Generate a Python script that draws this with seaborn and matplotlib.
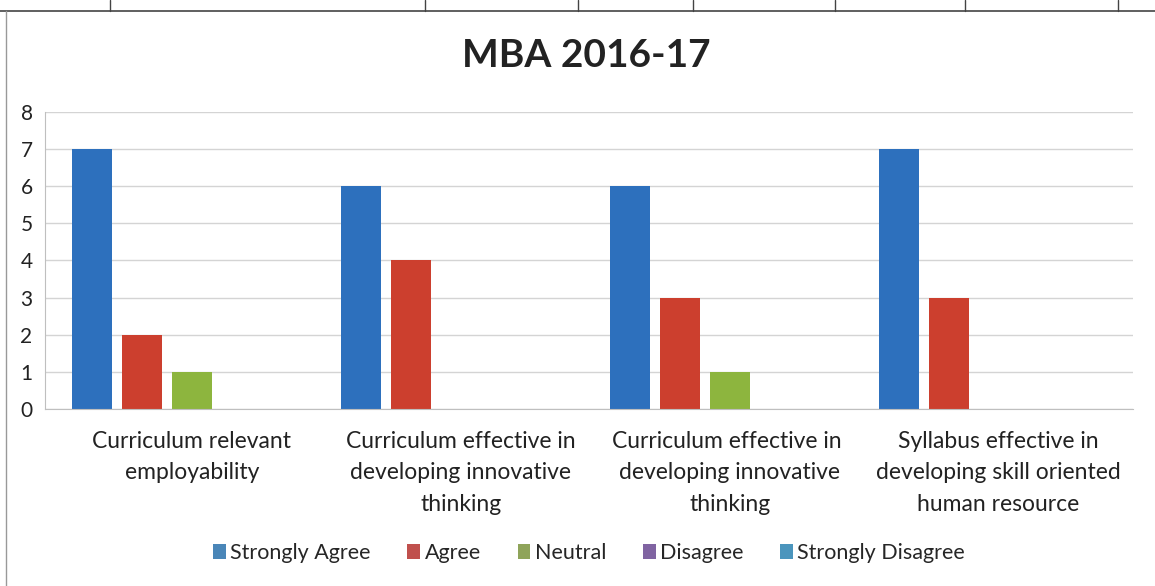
import numpy as np
import pandas as pd
import matplotlib
matplotlib.use('Agg')
import matplotlib.pyplot as plt
from matplotlib.patches import Patch
from matplotlib.lines import Line2D
import seaborn as sns

# data
categories = ["Curriculum relevant\nemployability",
              "Curriculum effective in\ndeveloping innovative\nthinking",
              "Curriculum effective in \ndeveloping innovative\nthinking",
              "Syllabus effective in\ndeveloping skill oriented\nhuman resource"]
responses = ["Strongly Agree", "Agree", "Neutral", "Disagree", "Strongly Disagree"]
strongly_agree = [7, 6, 6, 7]
agree = [2, 4, 3, 3]
neutral = [1, 0, 1, 0]
disagree = [0, 0, 0, 0]
strongly_disagree = [0, 0, 0, 0]
y_ticks = [0, 1, 2, 3, 4, 5, 6, 7, 8]

values = [strongly_agree, agree, neutral, disagree, strongly_disagree]
rows = []
for resp, vals in zip(responses, values):
    for cat, v in zip(categories, vals):
        rows.append({"Question": cat, "Response": resp, "Count": v})
df = pd.DataFrame(rows)

bar_colors = ["#2d70bd", "#cc3f2e", "#8db53e", "#7b5ea6", "#3aa3c2"]
legend_colors = ["#4a86b8", "#c0504d", "#8fa45a", "#8064a2", "#4b95bd"]

sns.set_style("white")
plt.rcParams['font.family'] = ['Lato', 'DejaVu Sans']

fig = plt.figure(figsize=(11.55, 5.86), dpi=100)
ax = fig.add_axes([0.039, 0.302, 0.942, 0.507])

sns.barplot(data=df, x="Question", y="Count", hue="Response",
            hue_order=responses, order=categories, palette=bar_colors,
            saturation=1, width=0.93, gap=0.2, linewidth=0,
            legend=False, ax=ax)

ax.set_ylim(0, 8)
ax.set_xlim(-0.546, 3.5)
ax.set_yticks(y_ticks)
ax.yaxis.grid(True, color="#d4d4d4", linewidth=1)
ax.set_axisbelow(True)
ax.set_xlabel("")
ax.set_ylabel("")
for s in ["top", "right"]:
    ax.spines[s].set_visible(False)
ax.spines["left"].set_color("#bfbfbf")
ax.spines["bottom"].set_color("#bfbfbf")
ax.tick_params(axis="y", labelsize=15, colors="#222222", length=4, color="#bfbfbf", pad=5)
ax.tick_params(axis="x", length=0, pad=16)
ax.set_xticks(range(len(categories)))
ax.set_xticklabels(categories, fontsize=16.5, color="#222222", linespacing=1.6)

fig.text(0.508, 0.905, "MBA 2016-17", ha="center", va="center",
         fontsize=28, fontweight="bold", color="#222222")

handles = [Patch(facecolor=c, edgecolor="none") for c in legend_colors]
fig.legend(handles, responses, loc="center", bbox_to_anchor=(0.51, 0.056),
           ncol=5, frameon=False, fontsize=15.5, handlelength=0.6,
           handleheight=0.7, handletextpad=0.2, columnspacing=1.7)

# scan border lines of the sheet cells
fig.add_artist(Line2D([0, 1], [0.982, 0.982], color="#444444", lw=1.2))
fig.add_artist(Line2D([0.005, 0.005], [0, 0.982], color="#999999", lw=1))
for x in [110, 425, 578, 693, 835, 965, 1118]:
    fig.add_artist(Line2D([x / 1155, x / 1155], [0.982, 1], color="#444444", lw=1))

fig.savefig("out.png", dpi=100, facecolor="white")
